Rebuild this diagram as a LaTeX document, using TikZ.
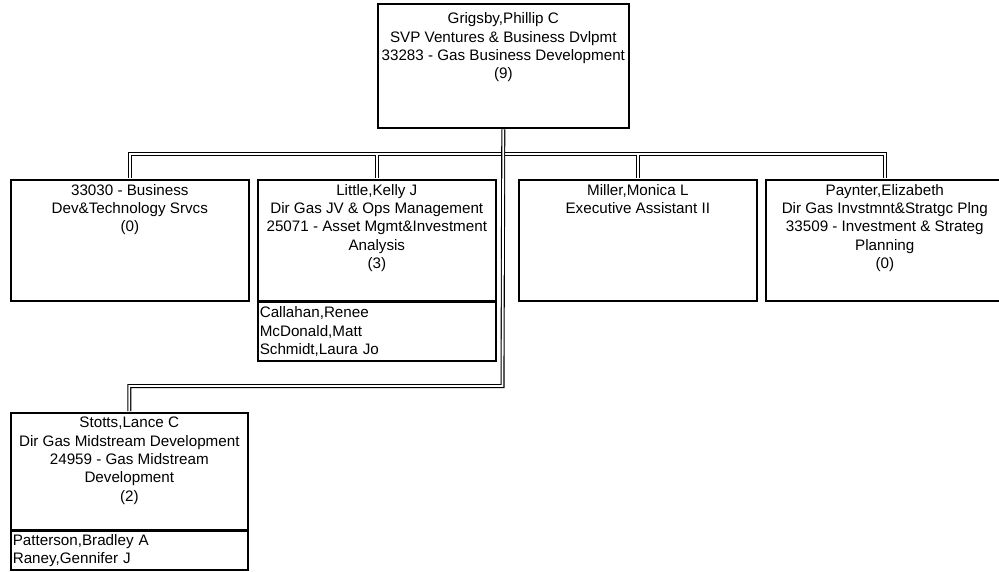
\documentclass[tikz,border=0pt]{standalone}
\usepackage{fontspec}
\setmainfont{Liberation Sans}
\usetikzlibrary{positioning}
\newcommand{\orgfont}{\fontsize{15.2pt}{18.3pt}\selectfont}
\tikzset{
  orgbox/.style={draw, line width=1.6pt, anchor=north west, minimum width=238pt, minimum height=121pt, inner sep=0pt},
  orgtext/.style={align=center, font=\orgfont, inner sep=0pt},
  orglist/.style={draw, line width=1.6pt, anchor=north west, align=left, font=\orgfont, text width=234pt, inner xsep=2pt, inner ysep=4.5pt},
  orglink/.style={double, line width=1.1pt, double distance=1.8pt, shorten <=0.8pt, shorten >=0.8pt}
}

\begin{document}
\begin{tikzpicture}[x=1pt,y=-1pt]
  \useasboundingbox (0,0) rectangle (999,571);
  \node[orgbox, minimum width=251pt, minimum height=124pt] (grig) at (377,3) {};
  \node[orgtext, below=9.5pt of grig.north] (grigt) {Grigsby,Phillip C\\SVP Ventures \& Business Dvlpmt\\33283 - Gas Business Development\\(9)};
  \node[orgbox] (bdev) at (10,179) {};
  \node[orgtext, below=5pt of bdev.north] (bdevt) {33030 - Business\\Dev\&Technology Srvcs\\(0)};
  \node[orgbox] (little) at (257,179) {};
  \node[orgtext, below=5pt of little.north] (littlet) {Little,Kelly J\\Dir Gas JV \& Ops Management\\25071 - Asset Mgmt\&Investment\\Analysis\\(3)};
  \node[orglist] (littlel) at (little.south west) {Callahan,Renee\\McDonald,Matt\\Schmidt,Laura Jo};
  \node[orgbox] (miller) at (518,179) {};
  \node[orgtext, below=5pt of miller.north] (millert) {Miller,Monica L\\Executive Assistant II};
  \node[orgbox] (paynter) at (765,179) {};
  \node[orgtext, below=5pt of paynter.north] (paynterl) {Paynter,Elizabeth\\Dir Gas Invstmnt\&Stratgc Plng\\33509 - Investment \& Strateg\\Planning\\(0)};
  \node[orgbox, minimum width=237pt, minimum height=117pt] (stotts) at (10,412) {};
  \node[orgtext, below=5pt of stotts.north] (stottst) {Stotts,Lance C\\Dir Gas Midstream Development\\24959 - Gas Midstream\\Development\\(2)};
  \node[orglist, text width=233pt, inner ysep=3pt] (stottsl) at (stotts.south west) {Patterson,Bradley A\\Raney,Gennifer J};

  \coordinate (bus) at (502.5,154);
  \coordinate (elbow) at (502.5,386);
  \draw[orglink] (bdev.north) |- (bus) -| (paynter.north);
  \draw[orglink] (little.north) -- (little.north |- bus);
  \draw[orglink] (miller.north) -- (miller.north |- bus);
  \draw[orglink] (grig.south) -- (elbow) -| (stotts.north);
\end{tikzpicture}
\end{document}
